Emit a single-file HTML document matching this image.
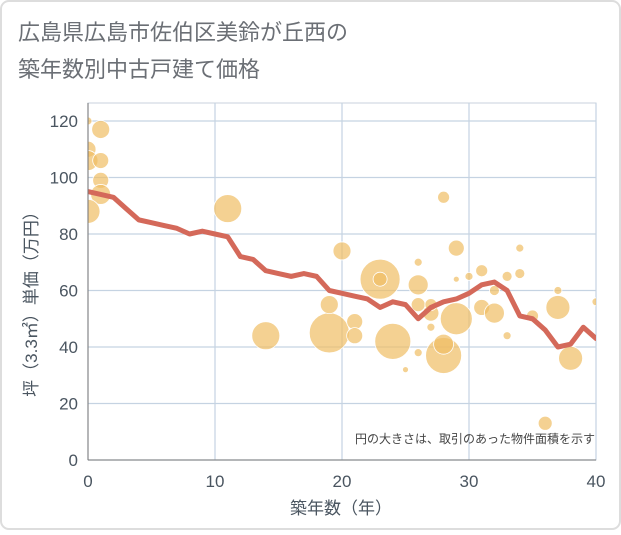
<!DOCTYPE html>
<html><head><meta charset="utf-8"><style>
body{margin:0;background:#fff;}
svg text{font-family:"Liberation Sans","Noto Sans CJK JP",sans-serif;}
</style></head><body>
<svg id="chart" width="621" height="530" xmlns="http://www.w3.org/2000/svg">
<defs><clipPath id="plotclip"><rect x="88" y="103" width="508" height="357"/></clipPath></defs>
<rect x="1" y="1" width="619" height="528" rx="8" fill="#fff" stroke="#ddd" stroke-width="2"/>
<text x="18" y="40" font-size="22" fill="#6b6f75">広島県広島市佐伯区美鈴が丘西の</text>
<text x="18" y="77" font-size="22" fill="#6b6f75">築年数別中古戸建て価格</text>
<g id="grid"></g>
<g id="bubbles" clip-path="url(#plotclip)"></g>
<g id="line" clip-path="url(#plotclip)"></g>
<g id="axes"></g>
<text x="595" y="443" font-size="12" fill="#444" text-anchor="end">円の大きさは、取引のあった物件面積を示す</text>
<text x="341" y="514" font-size="17" fill="#4a5560" text-anchor="middle">築年数（年）</text>
<text transform="translate(37,300) rotate(-90)" font-size="17" fill="#4a5560" text-anchor="middle">坪（3.3㎡）単価（万円）</text>
</svg>
<script>
const xTicks=[0,10,20,30,40];
const yTicks=[0,20,40,60,80,100,120];
const lineX=[0,1,2,3,4,5,6,7,8,9,10,11,12,13,14,15,16,17,18,19,20,21,22,23,24,25,26,27,28,29,30,31,32,33,34,35,36,37,38,39,40];
const lineY=[95,94,93,89,85,84,83,82,80,81,80,79,72,71,67,66,65,66,65,60,59,58,57,54,56,55,50,54,56,57,59,62,63,60,51,50,46,40,41,47,43];
const bubbleX=[0,1,0,0,1,1,1,0,11,14,19,19,20,21,21,23,23,24,25,26,26,26,26,27,27,28,28,28,29,29,30,29,31,31,32,32,33,33,34,34,35,37,37,38,40,36,27];
const bubbleY=[120,117,110,106,106,99,94,88,89,44,45,55,74,49,44,64,64,42,32,38,55,62,70,52,55,93,37,41,75,50,65,64,54,67,52,60,44,65,75,66,51,54,60,36,56,13,47];
const bubbleR=[4,9,8,10,8,8,10,12,14,14,20,9,9,8,8,20,7,18,3,4,7,10,4,8,6,6,18,10,8,16,4,3,8,6,10,5,4,5,4,5,6,12,4,12,4,7,4];
const X0=88,X1=596,Y0=460,Y1=121;
const sx=v=>X0+(X1-X0)*v/40, sy=v=>Y0-(Y0-Y1)*v/120;
const NS="http://www.w3.org/2000/svg";
function mk(t,a,p){const e=document.createElementNS(NS,t);for(const k in a)e.setAttribute(k,a[k]);p.appendChild(e);return e;}
const grid=document.getElementById('grid'),axes=document.getElementById('axes');
mk('rect',{x:X0,y:103,width:X1-X0,height:Y0-103,fill:'none',stroke:'#c8d2dc'},grid);
xTicks.forEach(t=>{
 const l=mk('line',{x1:sx(t),x2:sx(t),y1:103,y2:Y0,stroke:'#c5d3e2','stroke-width':1.2},grid);
 
 
 const tx=mk('text',{x:sx(t),y:487,'font-size':17,fill:'#4a5560','text-anchor':'middle'},axes);
 tx.textContent=t;
 
 
});
yTicks.forEach(t=>{
 const l=mk('line',{x1:X0,x2:X1,y1:sy(t),y2:sy(t),stroke:'#c5d3e2','stroke-width':1.2},grid);
 
 
 const tx=mk('text',{x:78,y:sy(t)+6,'font-size':17,fill:'#4a5560','text-anchor':'end'},axes);
 tx.textContent=t;
 
 
});
mk('line',{x1:X0,x2:X0,y1:103,y2:Y0,stroke:'#777'},axes);
mk('line',{x1:X0,x2:X1,y1:Y0,y2:Y0,stroke:'#777'},axes);
const bg=document.getElementById('bubbles');
bubbleX.forEach((x,i)=>{
 const c=mk('circle',{cx:sx(x),cy:sy(bubbleY[i]),r:bubbleR[i],fill:'rgba(240,190,100,0.7)',stroke:'#fff','stroke-width':0.8},bg);
 
 
});
const pts=lineX.map((x,i)=>sx(x)+','+sy(lineY[i])).join(' ');
const pl=mk('polyline',{points:pts,fill:'none',stroke:'#d4695a','stroke-width':5,'stroke-linejoin':'round','stroke-linecap':'round'},document.getElementById('line'));


</script>
</body></html>
